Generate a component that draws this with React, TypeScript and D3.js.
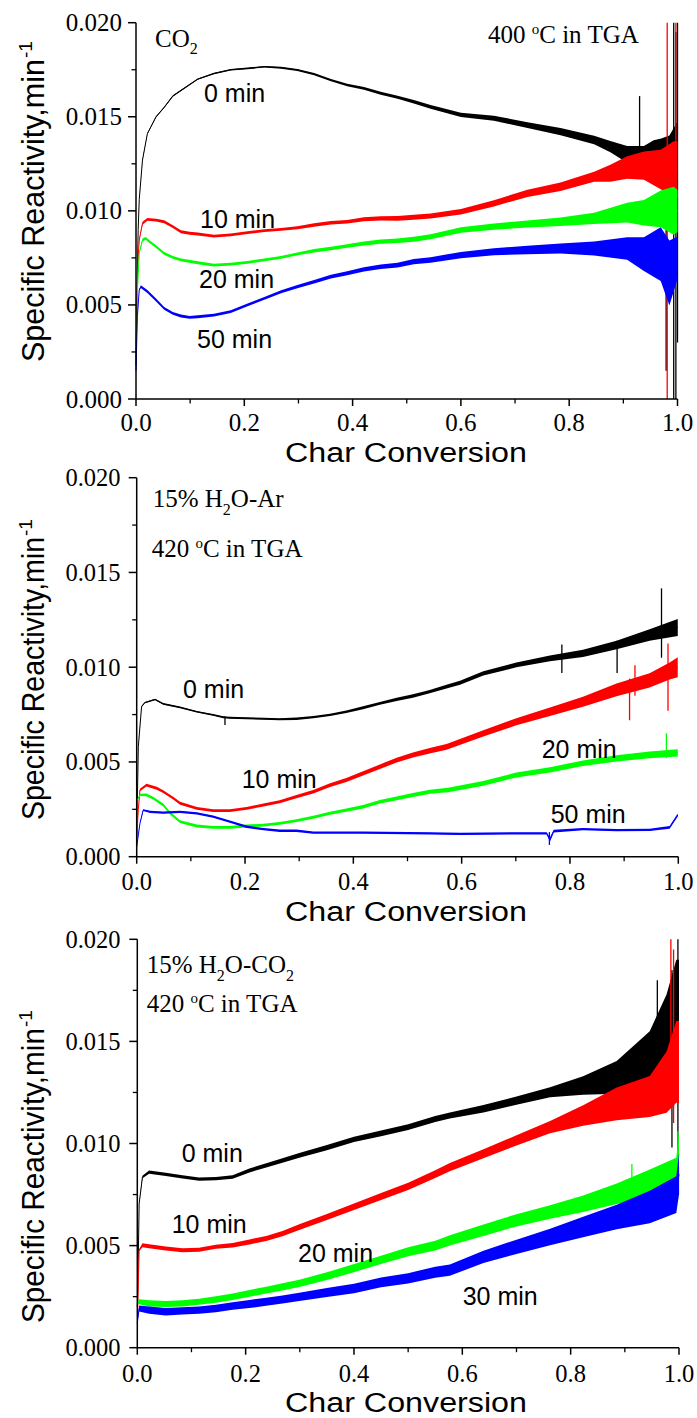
import React from 'react';
import * as d3 from 'd3';

type Pt = [number, number, number]; // [conversion, reactivity, noise half-width]
type Spike = [number, number, number]; // [conversion, low, high]

// ---------- tick definitions ----------
const xTickValues = [0, 0.2, 0.4, 0.6, 0.8, 1.0];
const xMinorValues = [0.1, 0.3, 0.5, 0.7, 0.9];
const yTickValues = [0, 0.005, 0.01, 0.015, 0.02];
const yMinorValues = [0.0025, 0.0075, 0.0125, 0.0175];
const seriesColors = ['#000000', '#ff0000', '#00ff00', '#0000ff'];

// ---------- Panel 1: CO2, 400 C ----------
const co2Min0: Pt[] = [
  [0.000, 0.0018, 0], [0.002, 0.0060, 0], [0.004, 0.0090, 0], [0.006, 0.0106, 0],
  [0.012, 0.0127, 0], [0.021, 0.0141, 0], [0.037, 0.0150, 0.00003], [0.052, 0.0155, 0.00005],
  [0.068, 0.0161, 0.00005], [0.083, 0.0164, 0.00005], [0.114, 0.0170, 0.00005], [0.144, 0.0173, 0.00005],
  [0.175, 0.0175, 0.00006], [0.206, 0.01757, 0.00006], [0.237, 0.01766, 0.00006], [0.268, 0.01761, 0.00007],
  [0.298, 0.01749, 0.00007], [0.329, 0.01727, 0.00008], [0.360, 0.01695, 0.00008], [0.390, 0.01669, 0.00009],
  [0.421, 0.01651, 0.0001], [0.452, 0.01625, 0.0001], [0.483, 0.01604, 0.00011], [0.513, 0.0158, 0.00012],
  [0.544, 0.01553, 0.00013], [0.600, 0.0151, 0.00015], [0.661, 0.01492, 0.00018], [0.723, 0.01456, 0.0002],
  [0.784, 0.01421, 0.00025], [0.846, 0.01377, 0.0003], [0.876, 0.01341, 0.0004], [0.907, 0.0130, 0.0006],
  [0.938, 0.0130, 0.0006], [0.956, 0.0130, 0.001], [0.970, 0.0128, 0.0014], [0.985, 0.0125, 0.002],
  [1.000, 0.0125, 0.003],
];
const co2Min10: Pt[] = [
  [0.000, 0.0022, 0], [0.003, 0.0070, 0], [0.006, 0.00845, 0.00005], [0.012, 0.00934, 0.0001],
  [0.021, 0.00955, 0.0001], [0.037, 0.00951, 0.0001], [0.052, 0.00942, 0.0001], [0.068, 0.00916, 0.0001],
  [0.083, 0.00889, 0.0001], [0.099, 0.00881, 0.0001], [0.114, 0.00877, 0.0001], [0.144, 0.00866, 0.0001],
  [0.175, 0.00872, 0.0001], [0.206, 0.00884, 0.0001], [0.237, 0.00895, 0.0001], [0.268, 0.00902, 0.0001],
  [0.298, 0.0091, 0.0001], [0.329, 0.00925, 0.00012], [0.360, 0.00937, 0.00012], [0.390, 0.00942, 0.00013],
  [0.421, 0.00955, 0.00014], [0.452, 0.0096, 0.00015], [0.483, 0.0096, 0.00016], [0.513, 0.00966, 0.00017],
  [0.544, 0.00973, 0.00018], [0.600, 0.00995, 0.0002], [0.661, 0.0104, 0.00022], [0.723, 0.01093, 0.00025],
  [0.784, 0.01128, 0.0003], [0.846, 0.01181, 0.00035], [0.876, 0.0120, 0.0006], [0.907, 0.0123, 0.0008],
  [0.938, 0.0124, 0.001], [0.969, 0.0122, 0.0014], [0.993, 0.0122, 0.002], [1.000, 0.0122, 0.002],
];
const co2Min20: Pt[] = [
  [0.000, 0.0020, 0], [0.003, 0.0060, 0], [0.006, 0.00776, 0.00005], [0.012, 0.00845, 0.0001],
  [0.018, 0.00854, 0.0001], [0.025, 0.00836, 0.0001], [0.037, 0.0081, 0.0001], [0.052, 0.00774, 0.0001],
  [0.068, 0.00753, 0.0001], [0.083, 0.00739, 0.0001], [0.114, 0.00724, 0.0001], [0.144, 0.00712, 0.0001],
  [0.175, 0.00717, 0.0001], [0.206, 0.00726, 0.0001], [0.237, 0.00739, 0.0001], [0.268, 0.00753, 0.0001],
  [0.298, 0.00771, 0.0001], [0.329, 0.00788, 0.00012], [0.360, 0.0080, 0.00012], [0.390, 0.00813, 0.00013],
  [0.421, 0.00827, 0.00014], [0.452, 0.00836, 0.00015], [0.483, 0.00841, 0.00016], [0.513, 0.00849, 0.00017],
  [0.544, 0.00862, 0.00018], [0.600, 0.00898, 0.0002], [0.661, 0.00916, 0.00022], [0.723, 0.0093, 0.00025],
  [0.784, 0.00942, 0.0003], [0.846, 0.0096, 0.0004], [0.907, 0.0099, 0.0007], [0.938, 0.0099, 0.0009],
  [0.969, 0.0101, 0.0013], [0.993, 0.0100, 0.0017], [1.000, 0.0100, 0.0015],
];
const co2Min50: Pt[] = [
  [0.000, 0.0015, 0], [0.0025, 0.00437, 0], [0.006, 0.00579, 0.00005], [0.009, 0.00597, 0.0001],
  [0.0215, 0.0057, 0.0001], [0.037, 0.00526, 0.0001], [0.052, 0.00482, 0.0001], [0.068, 0.00455, 0.0001],
  [0.083, 0.00441, 0.0001], [0.099, 0.00434, 0.0001], [0.114, 0.00437, 0.0001], [0.144, 0.00446, 0.0001],
  [0.175, 0.00464, 0.0001], [0.206, 0.0050, 0.0001], [0.237, 0.00535, 0.0001], [0.268, 0.0057, 0.0001],
  [0.298, 0.00597, 0.00011], [0.329, 0.00623, 0.00012], [0.360, 0.0065, 0.00013], [0.390, 0.00668, 0.00014],
  [0.421, 0.00689, 0.00015], [0.452, 0.00703, 0.00016], [0.483, 0.00712, 0.00017], [0.513, 0.0073, 0.00018],
  [0.544, 0.00739, 0.0002], [0.600, 0.00765, 0.00022], [0.661, 0.00783, 0.00025], [0.723, 0.00792, 0.0003],
  [0.784, 0.0080, 0.00035], [0.846, 0.0080, 0.0005], [0.907, 0.0080, 0.0008], [0.938, 0.0077, 0.0012],
  [0.969, 0.0077, 0.0019], [0.985, 0.0067, 0.0023], [1.000, 0.0075, 0.0015],
];
const co2Spikes0: Spike[] = [[0.930, 0.0128, 0.0161], [0.979, 0.0015, 0.0135], [0.993, 0.0, 0.0200], [0.997, 0.0, 0.0195], [1.0, 0.003, 0.0200]];
const co2Spikes10: Spike[] = [[0.981, 0.0, 0.0200], [0.997, 0.009, 0.0200]];
const co2Spikes20: Spike[] = [];
const co2Spikes50: Spike[] = [];

// ---------- Panel 2: 15% H2O-Ar, 420 C ----------
const arMin0: Pt[] = [
  [0.000, 0.0010, 0], [0.003, 0.0058, 0], [0.009, 0.00792, 0.00005], [0.015, 0.00813, 0.00005],
  [0.034, 0.0083, 0.00005], [0.049, 0.00806, 0.00006], [0.080, 0.00788, 0.00006], [0.111, 0.00765, 0.00006],
  [0.141, 0.00748, 0.00006], [0.160, 0.00736, 0.00007], [0.172, 0.00733, 0.00007], [0.203, 0.0073, 0.00007],
  [0.234, 0.00728, 0.00007], [0.264, 0.00725, 0.00007], [0.295, 0.00728, 0.00008], [0.326, 0.00736, 0.00008],
  [0.357, 0.00748, 0.00008], [0.387, 0.00765, 0.00009], [0.418, 0.00786, 0.0001], [0.449, 0.00809, 0.0001],
  [0.480, 0.0083, 0.00011], [0.510, 0.00848, 0.00012], [0.541, 0.00871, 0.00012], [0.572, 0.00897, 0.00013],
  [0.597, 0.00918, 0.00014], [0.640, 0.00968, 0.00015], [0.701, 0.01012, 0.00017], [0.763, 0.01047, 0.0002],
  [0.824, 0.01073, 0.00025], [0.886, 0.01117, 0.0003], [0.947, 0.0117, 0.0004], [0.999, 0.0121, 0.0006],
];
const arMin10: Pt[] = [
  [0.000, 0.0010, 0], [0.003, 0.0025, 0], [0.006, 0.00352, 0.00008], [0.018, 0.00378, 0.0001],
  [0.037, 0.00361, 0.0001], [0.049, 0.00343, 0.0001], [0.068, 0.00308, 0.0001], [0.080, 0.00282, 0.0001],
  [0.111, 0.00255, 0.0001], [0.141, 0.00243, 0.0001], [0.172, 0.00243, 0.0001], [0.203, 0.00255, 0.0001],
  [0.234, 0.00273, 0.0001], [0.264, 0.0029, 0.0001], [0.295, 0.00317, 0.00011], [0.326, 0.00343, 0.00012],
  [0.357, 0.00378, 0.00013], [0.387, 0.00405, 0.00014], [0.418, 0.0044, 0.00015], [0.449, 0.00475, 0.00016],
  [0.480, 0.0051, 0.00017], [0.510, 0.00537, 0.00018], [0.541, 0.00559, 0.00019], [0.572, 0.0058, 0.0002],
  [0.640, 0.00651, 0.00022], [0.701, 0.00712, 0.00025], [0.763, 0.00765, 0.0003], [0.824, 0.00818, 0.00035],
  [0.886, 0.0088, 0.00045], [0.947, 0.0093, 0.0005], [0.984, 0.0098, 0.0006], [0.999, 0.0100, 0.0007],
];
const arMin20: Pt[] = [
  [0.000, 0.0015, 0], [0.001, 0.00299, 0], [0.006, 0.00326, 0.00008], [0.018, 0.00326, 0.0001],
  [0.031, 0.00308, 0.0001], [0.049, 0.00273, 0.0001], [0.062, 0.00229, 0.0001], [0.080, 0.00185, 0.0001],
  [0.111, 0.00162, 0.0001], [0.141, 0.00155, 0.0001], [0.172, 0.00155, 0.0001], [0.203, 0.00162, 0.0001],
  [0.234, 0.00167, 0.0001], [0.264, 0.00176, 0.0001], [0.295, 0.0019, 0.0001], [0.326, 0.00208, 0.0001],
  [0.357, 0.00229, 0.00011], [0.387, 0.00246, 0.00012], [0.418, 0.00264, 0.00012], [0.449, 0.0029, 0.00013],
  [0.480, 0.00308, 0.00013], [0.510, 0.00326, 0.00014], [0.541, 0.00343, 0.00014], [0.575, 0.00352, 0.00015],
  [0.640, 0.00387, 0.00016], [0.701, 0.00431, 0.00017], [0.763, 0.00458, 0.00018], [0.824, 0.00493, 0.0002],
  [0.886, 0.00519, 0.00022], [0.947, 0.00537, 0.00024], [0.999, 0.00548, 0.00025],
];
const arMin50: Pt[] = [
  [0.000, 0.00053, 0], [0.006, 0.00176, 0], [0.012, 0.00246, 0.00006], [0.025, 0.00237, 0.00008],
  [0.049, 0.00232, 0.00008], [0.080, 0.00237, 0.00008], [0.111, 0.00229, 0.00008], [0.141, 0.00211, 0.00008],
  [0.172, 0.00185, 0.00008], [0.203, 0.00158, 0.00008], [0.234, 0.00145, 0.00008], [0.264, 0.00137, 0.00008],
  [0.295, 0.00137, 0.00008], [0.326, 0.00127, 0.00008], [0.418, 0.00127, 0.00008], [0.541, 0.00123, 0.00008],
  [0.597, 0.0012, 0.00008], [0.701, 0.00123, 0.00008], [0.757, 0.00123, 0.00008], [0.763, 0.0009, 0.00015],
  [0.770, 0.00135, 0.0001], [0.824, 0.00145, 0.00008], [0.886, 0.0014, 0.00008], [0.947, 0.00141, 0.00008],
  [0.984, 0.00155, 0.0001], [0.999, 0.0022, 0.0001],
];
const arSpikes0: Spike[] = [[0.163, 0.00695, 0.0074], [0.785, 0.0097, 0.0112], [0.887, 0.0097, 0.0114], [0.969, 0.0105, 0.01416]];
const arSpikes10: Spike[] = [[0.910, 0.0072, 0.0094], [0.920, 0.0085, 0.0101], [0.981, 0.0077, 0.01125]];
const arSpikes20: Spike[] = [[0.978, 0.0052, 0.00651]];
const arSpikes50: Spike[] = [[0.762, 0.00062, 0.0013]];

// ---------- Panel 3: 15% H2O-CO2, 420 C ----------
const mixMin0: Pt[] = [
  [0.000, 0.0020, 0], [0.0006, 0.00233, 0], [0.0034, 0.00705, 0], [0.0095, 0.00836, 0.00006],
  [0.0218, 0.0086, 0.00008], [0.0526, 0.00849, 0.00008], [0.0833, 0.00836, 0.00008], [0.114, 0.00826, 0.00008],
  [0.145, 0.00828, 0.00008], [0.176, 0.00836, 0.00009], [0.207, 0.00868, 0.0001], [0.238, 0.00893, 0.0001],
  [0.268, 0.00917, 0.00011], [0.299, 0.00942, 0.00012], [0.350, 0.0098, 0.00013], [0.400, 0.0102, 0.00013],
  [0.450, 0.0105, 0.00014], [0.500, 0.0108, 0.00014], [0.550, 0.0112, 0.00015], [0.577, 0.01137, 0.00015],
  [0.639, 0.0117, 0.00018], [0.700, 0.0121, 0.0002], [0.762, 0.01251, 0.00025], [0.823, 0.01284, 0.00045],
  [0.885, 0.01324, 0.0008], [0.946, 0.0142, 0.0013], [0.977, 0.0155, 0.0018], [0.995, 0.0160, 0.003],
  [1.000, 0.0160, 0.003],
];
const mixMin10: Pt[] = [
  [0.000, 0.0018, 0], [0.0006, 0.00184, 0], [0.0034, 0.00477, 0.00005], [0.0095, 0.00502, 0.0001],
  [0.0218, 0.00497, 0.0001], [0.0526, 0.00486, 0.0001], [0.0833, 0.00477, 0.0001], [0.114, 0.0048, 0.0001],
  [0.145, 0.00494, 0.0001], [0.176, 0.00502, 0.00011], [0.207, 0.00518, 0.00012], [0.238, 0.00535, 0.00012],
  [0.268, 0.00559, 0.00013], [0.299, 0.00591, 0.00014], [0.350, 0.0064, 0.00015], [0.400, 0.0069, 0.00016],
  [0.450, 0.0074, 0.00017], [0.500, 0.0079, 0.00018], [0.550, 0.0085, 0.00019], [0.577, 0.00884, 0.0002],
  [0.639, 0.0095, 0.00022], [0.700, 0.01015, 0.00025], [0.762, 0.0108, 0.0003], [0.823, 0.01137, 0.0005],
  [0.885, 0.01194, 0.0008], [0.946, 0.0123, 0.001], [0.977, 0.0130, 0.0015], [0.995, 0.0140, 0.002],
  [1.000, 0.0140, 0.002],
];
const mixMin20: Pt[] = [
  [0.000, 0.0022, 0], [0.0034, 0.00225, 0.00012], [0.0218, 0.00217, 0.00015], [0.0526, 0.00214, 0.00015],
  [0.0833, 0.00217, 0.00015], [0.114, 0.00225, 0.00015], [0.145, 0.00236, 0.00016], [0.176, 0.00249, 0.00016],
  [0.207, 0.00266, 0.00017], [0.238, 0.00282, 0.00017], [0.268, 0.00298, 0.00018], [0.299, 0.00315, 0.00018],
  [0.350, 0.0035, 0.00019], [0.400, 0.0039, 0.0002], [0.450, 0.0043, 0.0002], [0.500, 0.0047, 0.00022],
  [0.550, 0.0050, 0.00024], [0.577, 0.00526, 0.00025], [0.639, 0.00575, 0.00028], [0.700, 0.00624, 0.0003],
  [0.762, 0.00665, 0.00033], [0.823, 0.00705, 0.0004], [0.885, 0.00754, 0.0005], [0.946, 0.00803, 0.0007],
  [0.995, 0.0085, 0.0008], [1.000, 0.0095, 0.001],
];
const mixMin30: Pt[] = [
  [0.000, 0.0012, 0], [0.0006, 0.00135, 0], [0.0034, 0.00192, 0.00015], [0.0218, 0.00184, 0.00018],
  [0.0526, 0.00176, 0.00018], [0.0833, 0.0018, 0.00018], [0.114, 0.00184, 0.00018], [0.145, 0.00192, 0.00018],
  [0.176, 0.00204, 0.00018], [0.207, 0.00214, 0.0002], [0.238, 0.00225, 0.0002], [0.268, 0.00236, 0.0002],
  [0.299, 0.00249, 0.0002], [0.350, 0.0027, 0.00022], [0.400, 0.0029, 0.00023], [0.450, 0.0032, 0.00024],
  [0.500, 0.0034, 0.00025], [0.550, 0.0037, 0.00027], [0.577, 0.0038, 0.00028], [0.639, 0.00445, 0.0003],
  [0.700, 0.00494, 0.00035], [0.762, 0.00542, 0.0004], [0.823, 0.00591, 0.0005], [0.885, 0.0064, 0.0006],
  [0.946, 0.00689, 0.0008], [0.995, 0.0075, 0.0009], [1.000, 0.0085, 0.001],
];
const mixSpikes0: Spike[] = [[0.960, 0.013, 0.018], [0.987, 0.0098, 0.0185], [0.998, 0.0094, 0.0200]];
const mixSpikes10: Spike[] = [[0.985, 0.012, 0.0200], [0.990, 0.011, 0.0195]];
const mixSpikes20: Spike[] = [[0.913, 0.0075, 0.0090], [0.998, 0.009, 0.0106]];
const mixSpikes30: Spike[] = [[0.999, 0.0075, 0.00885]];

// ---------- labels ----------
const curveLabels1 = ['0 min', '10 min', '20 min', '50 min'];
const curveLabels2 = ['0 min', '10 min', '20 min', '50 min'];
const curveLabels3 = ['0 min', '10 min', '20 min', '30 min'];
const xTitle = 'Char Conversion';
const yTitle = 'Specific Reactivity,min';
const yTitleSup = '-1';

const panels = [
  {
    x0: 136, x1: 677.5, yTop: 22.7, yBot: 399, tickFont: 25, yLabelRight: 122, xLabelGap: 32,
    xTitleY: 461.5, yTitleStart: 362, yTitleLen: 303, noiseScale: 0.75,
    series: [co2Min0, co2Min10, co2Min20, co2Min50],
    spikes: [co2Spikes0, co2Spikes10, co2Spikes20, co2Spikes50],
    labels: curveLabels1,
    labelPos: [[204, 101.7], [200, 228.3], [199, 288.3], [197, 348.3]],
  },
  {
    x0: 136.7, x1: 678.3, yTop: 477.7, yBot: 856.7, tickFont: 24.5, yLabelRight: 120.5, xLabelGap: 33,
    xTitleY: 920.5, yTitleStart: 820, yTitleLen: 283, noiseScale: 0.75,
    series: [arMin0, arMin10, arMin20, arMin50],
    spikes: [arSpikes0, arSpikes10, arSpikes20, arSpikes50],
    labels: curveLabels2,
    labelPos: [[183, 698.3], [241.7, 788.3], [541.7, 758.3], [550.7, 823.3]],
  },
  {
    x0: 137.3, x1: 679, yTop: 939.3, yBot: 1347.7, tickFont: 24.5, yLabelRight: 120.5, xLabelGap: 34,
    xTitleY: 1411.5, yTitleStart: 1323, yTitleLen: 295, noiseScale: 1,
    series: [mixMin0, mixMin10, mixMin20, mixMin30],
    spikes: [mixSpikes0, mixSpikes10, mixSpikes20, mixSpikes30],
    labels: curveLabels3,
    labelPos: [[181.7, 1162.3], [171.7, 1232.7], [298, 1262], [462.7, 1305]],
  },
];

const SERIF = '"Liberation Serif", "Times New Roman", serif';
const SANS = '"Liberation Sans", Arial, sans-serif';

function Panel({ p }: { p: typeof panels[number] }) {
  const x = d3.scaleLinear().domain([0, 1]).range([p.x0, p.x1]);
  const y = d3.scaleLinear().domain([0, 0.02]).range([p.yBot, p.yTop]);
  const minPx = 0.6;
  const k = p.noiseScale;
  const area = d3
    .area<Pt>()
    .x((d) => x(d[0]))
    .y0((d) => Math.max(y(d[1] - d[2] * k), y(d[1]) + minPx))
    .y1((d) => Math.min(y(d[1] + d[2] * k), y(d[1]) - minPx));
  const line = d3
    .line<Pt>()
    .x((d) => x(d[0]))
    .y((d) => y(d[1]));
  const fmt = d3.format('.3f');
  const fmtX = d3.format('.1f');
  return (
    <g>
      {p.series.map((s, i) => (
        <g key={i}>
          <path d={area(s) || ''} fill={seriesColors[i]} stroke="none" />
          <path d={line(s) || ''} fill="none" stroke={seriesColors[i]} strokeWidth={1} />
          {p.spikes[i].map((sp, j) => (
            <line key={j} x1={x(sp[0])} x2={x(sp[0])} y1={y(sp[1])} y2={y(sp[2])} stroke={seriesColors[i]} strokeWidth={1.3} />
          ))}
        </g>
      ))}
      <line x1={p.x0} x2={p.x0} y1={p.yTop} y2={p.yBot} stroke="#000" strokeWidth={1.5} />
      <line x1={p.x0} x2={p.x1} y1={p.yBot} y2={p.yBot} stroke="#000" strokeWidth={1.5} />
      {yTickValues.map((v) => (
        <g key={'yt' + v}>
          <line x1={p.x0 - 8} x2={p.x0} y1={y(v)} y2={y(v)} stroke="#000" strokeWidth={1.5} />
          <text x={p.yLabelRight} y={y(v)} dy="0.34em" textAnchor="end" fontFamily={SERIF} fontSize={p.tickFont}>
            {fmt(v)}
          </text>
        </g>
      ))}
      {yMinorValues.map((v) => (
        <line key={'ym' + v} x1={p.x0 - 4.5} x2={p.x0} y1={y(v)} y2={y(v)} stroke="#000" strokeWidth={1.3} />
      ))}
      {xTickValues.map((v) => (
        <g key={'xt' + v}>
          <line x1={x(v)} x2={x(v)} y1={p.yBot} y2={p.yBot + 7} stroke="#000" strokeWidth={1.5} />
          <text x={x(v)} y={p.yBot + p.xLabelGap} textAnchor="middle" fontFamily={SERIF} fontSize={p.tickFont}>
            {fmtX(v)}
          </text>
        </g>
      ))}
      {xMinorValues.map((v) => (
        <line key={'xm' + v} x1={x(v)} x2={x(v)} y1={p.yBot} y2={p.yBot + 4.5} stroke="#000" strokeWidth={1.3} />
      ))}
      {p.labels.map((t, i) => (
        <text key={'lb' + i} x={p.labelPos[i][0]} y={p.labelPos[i][1]} fontFamily={SANS} fontSize={25} fill="#000">
          {t}
        </text>
      ))}
      <text x={285} y={p.xTitleY} fontFamily={SANS} fontSize={27} textLength={242} lengthAdjust="spacingAndGlyphs">
        {xTitle}
      </text>
      <g transform={`translate(44, ${p.yTitleStart}) rotate(-90)`}>
        <text x={0} y={0} fontFamily={SANS} fontSize={31} textLength={p.yTitleLen} lengthAdjust="spacingAndGlyphs">
          {yTitle}
        </text>
        <text x={p.yTitleLen + 1} y={-12} fontFamily={SANS} fontSize={19}>
          {yTitleSup}
        </text>
      </g>
    </g>
  );
}

export default function App() {
  return (
    <svg
      width={697}
      height={1418}
      viewBox="0 0 697 1418"
      style={{ position: 'absolute', left: 0, top: 0, background: '#fff' }}
    >
      <rect x={0} y={0} width={697} height={1418} fill="#fff" />
      {panels.map((p, i) => (
        <Panel key={i} p={p} />
      ))}
      <text x={155} y={46.7} fontFamily={SERIF} fontSize={25}>
        CO<tspan fontSize={16} dy={7}>2</tspan>
      </text>
      <text x={488} y={43} fontFamily={SERIF} fontSize={25}>
        400 <tspan fontSize={15} dy={-9}>o</tspan>
        <tspan dy={9}>C in TGA</tspan>
      </text>
      <text x={152.7} y={506.7} fontFamily={SERIF} fontSize={25}>
        15% H<tspan fontSize={16} dy={8}>2</tspan>
        <tspan dy={-8}>O-Ar</tspan>
      </text>
      <text x={151.7} y={556.7} fontFamily={SERIF} fontSize={25}>
        420 <tspan fontSize={15} dy={-9}>o</tspan>
        <tspan dy={9}>C in TGA</tspan>
      </text>
      <text x={146.7} y={972.5} fontFamily={SERIF} fontSize={25}>
        15% H<tspan fontSize={16} dy={8}>2</tspan>
        <tspan dy={-8}>O-CO</tspan>
        <tspan fontSize={16} dy={8}>2</tspan>
      </text>
      <text x={146.7} y={1011.7} fontFamily={SERIF} fontSize={25}>
        420 <tspan fontSize={15} dy={-9}>o</tspan>
        <tspan dy={9}>C in TGA</tspan>
      </text>
    </svg>
  );
}
